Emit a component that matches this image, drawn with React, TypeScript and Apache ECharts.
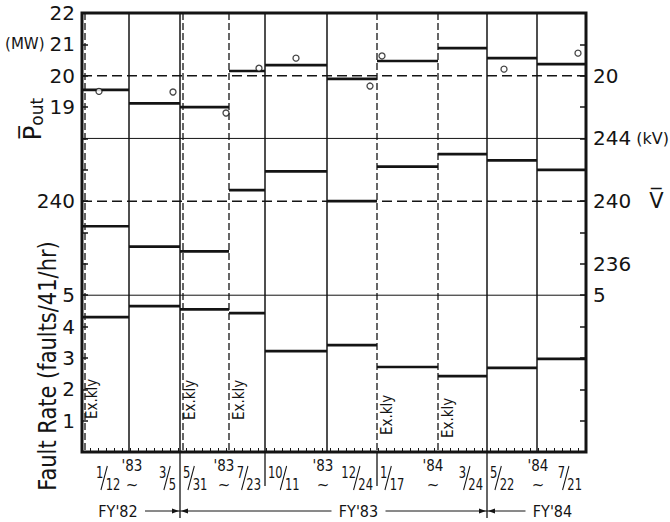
import React, { useEffect, useRef } from 'react';
import * as echarts from 'echarts';

// ---------------- data ----------------
// operating segments along the (compressed) time axis
const segmentEdges = [0, 47, 98, 147, 183, 245, 295, 356, 405, 455, 504];
const pOutMW = [19.55, 19.12, 19.0, 20.15, 20.34, 19.9, 20.47, 20.88, 20.56, 20.37];
const voltageKV = [238.4, 237.1, 236.8, 240.7, 241.9, 240.0, 242.2, 243.0, 242.6, 242.0];
const faultRate = [4.3, 4.65, 4.55, 4.43, 3.22, 3.41, 2.71, 2.42, 2.68, 2.97];
const pOutPointX = [17, 91, 144, 177, 214, 288, 300, 422, 496];
const pOutPointMW = [19.5, 19.48, 18.81, 20.24, 20.56, 19.67, 20.63, 20.21, 20.72];

const periodBoundaryEdges = [47, 98, 183, 245, 405, 455];
const klystronExchangeEdges = [0, 98, 147, 295, 356];
const runBoundaryEdges = [98, 183, 295, 405];
const runStartEdges = [0, 98, 183, 295, 405];
const runSplitEdges = [47, 147, 245, 356, 455];
const runEndEdges = [98, 183, 295, 405, 504];
const runStartDates = [['1', '12'], ['5', '31'], ['10', '11'], ['1', '17'], ['5', '22']];
const runEndDates = [['3', '5'], ['7', '23'], ['12', '24'], ['3', '24'], ['7', '21']];
const runYears = ["'83", "'83", "'83", "'84", "'84"];
const fiscalYears = ["FY'82", "FY'83", "FY'84"];
const fiscalYearEdges = [0, 98, 405, 504];

const pOutLeftTicks = [19, 20, 21, 22];
const pOutRightTicks = [20];
const voltageLeftTicks = [240];
const voltageRightTicks = [236, 240, 244];
const faultLeftTicks = [1, 2, 3, 4, 5];
const faultRightTicks = [5];
const pOutDashed = [20];
const voltageDashed = [240];
const voltageSolid = [244];
const faultSolid = [5];

// ---------------- layout / style ----------------
const FONT = "'DejaVu Sans', sans-serif";
const NARROW = "'DejaVu Sans Condensed', 'DejaVu Sans', sans-serif";
const INK = '#141414';
const X_MIN = 0, X_MAX = 504;
const F_MIN = 0, F_MAX = 14;
const P_MIN = 8, P_MAX = 22;
const V_MIN = 224, V_MAX = 252;
const exKlyLift = [33, 32, 32, 17, 14];
const fyTextShift = [-13, 25, 16];
const yearShift = [3, -5, -4, -5, 1];

function stepSeries(name: string, values: number[], yAxisIndex: number) {
  return {
    type: 'custom', name, yAxisIndex, z: 5,
    encode: { x: [0, 1], y: 2 },
    data: values.map((v, i) => [segmentEdges[i], segmentEdges[i + 1], v]),
    renderItem: (_p: any, api: any) => {
      const a = api.coord([api.value(0), api.value(2)]);
      const b = api.coord([api.value(1), api.value(2)]);
      return { type: 'line', shape: { x1: a[0], y1: a[1], x2: b[0], y2: b[1] }, style: { stroke: INK, lineWidth: 2.7 } };
    },
  };
}

function refLineSeries(name: string, values: number[], yAxisIndex: number, dashed: boolean) {
  return {
    type: 'custom', name, yAxisIndex, z: 3,
    encode: { x: 0, y: 1 },
    data: values.map((v) => [X_MIN, v]),
    renderItem: (_p: any, api: any) => {
      const a = api.coord([X_MIN, api.value(1)]);
      const b = api.coord([X_MAX, api.value(1)]);
      return {
        type: 'line', shape: { x1: a[0], y1: a[1], x2: b[0], y2: b[1] },
        style: { stroke: INK, lineWidth: dashed ? 1.5 : 1, lineDash: dashed ? [10, 5] : null },
      };
    },
  };
}

// fraction like  1/12  drawn as raised numerator, slash and lowered denominator
const FRAC_FS = 16;
const FRAC_DW = FRAC_FS * 0.572;
const FRAC_SCALE = 0.8;
function fraction(x: number, y: number, parts: string[], align: string) {
  const nw = parts[0].length * FRAC_DW;
  const width = (nw + 3 + parts[1].length * FRAC_DW) * FRAC_SCALE;
  const gx = align === 'right' ? x - width : x;
  const ts = { fontSize: FRAC_FS, fontFamily: NARROW, fill: INK, verticalAlign: 'middle', align: 'left' };
  return {
    type: 'group', x: gx, y, scaleX: FRAC_SCALE,
    children: [
      { type: 'text', x: 0, y: -6, style: { ...ts, text: parts[0] } },
      { type: 'line', shape: { x1: nw - 3, y1: 12, x2: nw + 5, y2: -12 }, style: { stroke: INK, lineWidth: 1.3 } },
      { type: 'text', x: nw + 3, y: 6, style: { ...ts, text: parts[1] } },
    ],
  };
}

const axisLabelBase = { fontSize: 20, fontFamily: FONT, color: INK };
const hidden = { axisLine: { show: false }, splitLine: { show: false } };

const option: any = {
  animation: false,
  backgroundColor: '#fff',
  grid: { left: 82, right: 84, top: 13, bottom: 70, show: true, borderColor: INK, borderWidth: 3, outerBoundsMode: 'none' },
  xAxis: {
    type: 'value', min: X_MIN, max: X_MAX, interval: 8,
    axisLine: { show: false }, splitLine: { show: false }, axisLabel: { show: false },
    axisTick: { show: true, inside: true, length: 4, lineStyle: { color: INK, width: 1 } },
  },
  yAxis: [
    {
      type: 'value', min: F_MIN, max: F_MAX, interval: 1, position: 'left', ...hidden,
      axisTick: { show: true, inside: true, length: 6, lineStyle: { color: INK, width: 1.5 } },
      axisLabel: { ...axisLabelBase, margin: 7, formatter: (v: number) => (faultLeftTicks.includes(v) ? String(v) : '') },
    },
    {
      type: 'value', min: P_MIN, max: P_MAX, interval: 1, position: 'left', ...hidden, axisTick: { show: false },
      axisLabel: {
        ...axisLabelBase, margin: 7, showMaxLabel: true,
        formatter: (v: number) => (!pOutLeftTicks.includes(v) ? '' : v === 21 ? '{u|(MW)}21' : String(v)),
        rich: { u: { fontSize: 15, fontFamily: FONT, color: INK, padding: [0, 5, 0, 0] } },
      },
    },
    {
      type: 'value', min: V_MIN, max: V_MAX, interval: 2, position: 'left', ...hidden, axisTick: { show: false },
      axisLabel: { ...axisLabelBase, margin: 7, formatter: (v: number) => (voltageLeftTicks.includes(v) ? String(v) : '') },
    },
    {
      type: 'value', min: F_MIN, max: F_MAX, interval: 1, position: 'right', ...hidden,
      axisTick: { show: true, inside: true, length: 6, lineStyle: { color: INK, width: 1.5 } },
      axisLabel: { ...axisLabelBase, margin: 7, formatter: (v: number) => (faultRightTicks.includes(v) ? String(v) : '') },
    },
    {
      type: 'value', min: P_MIN, max: P_MAX, interval: 1, position: 'right', ...hidden, axisTick: { show: false },
      axisLabel: { ...axisLabelBase, margin: 7, formatter: (v: number) => (pOutRightTicks.includes(v) ? String(v) : '') },
    },
    {
      type: 'value', min: V_MIN, max: V_MAX, interval: 2, position: 'right', ...hidden, axisTick: { show: false },
      axisLabel: {
        ...axisLabelBase, margin: 7,
        formatter: (v: number) =>
          !voltageRightTicks.includes(v) ? '' : v === 244 ? '244{u|(kV)}' : v === 240 ? '240{w|V\u0305}' : String(v),
        rich: {
          u: { fontSize: 16, fontFamily: FONT, color: INK, padding: [0, 0, 0, 5] },
          w: { fontSize: 21, fontFamily: FONT, color: INK, padding: [0, 0, 0, 18] },
        },
      },
    },
  ],
  series: [
    refLineSeries('P ref dashed', pOutDashed, 1, true),
    refLineSeries('V ref dashed', voltageDashed, 2, true),
    refLineSeries('V ref solid', voltageSolid, 2, false),
    refLineSeries('F ref solid', faultSolid, 0, false),
    {
      type: 'custom', name: 'dividers', yAxisIndex: 0, z: 4,
      encode: { x: 0, y: 1 },
      data: [...periodBoundaryEdges.map((x) => [x, 0, 0]), ...klystronExchangeEdges.map((x) => [x, 0, 1])],
      renderItem: (_p: any, api: any) => {
        const x = api.value(0);
        const dashed = api.value(2) === 1;
        const top = api.coord([x, F_MAX]);
        const bot = api.coord([x, F_MIN]);
        const shift = dashed && (x === X_MIN || periodBoundaryEdges.includes(x)) ? 3 : 0;
        return {
          type: 'line',
          shape: { x1: top[0] + shift, y1: top[1], x2: bot[0] + shift, y2: bot[1] },
          style: { stroke: INK, lineWidth: dashed ? 1.3 : 1.5, lineDash: dashed ? [7, 3] : null },
        };
      },
    },
    {
      type: 'custom', name: 'run separators', yAxisIndex: 0, z: 4,
      encode: { x: 0, y: 1 },
      data: runBoundaryEdges.map((x) => [x, 0]),
      renderItem: (_p: any, api: any) => {
        const x = api.value(0);
        const bot = api.coord([x, F_MIN]);
        const len = fiscalYearEdges.includes(x) ? 66 : 34;
        return { type: 'line', shape: { x1: bot[0], y1: bot[1], x2: bot[0], y2: bot[1] + len }, style: { stroke: INK, lineWidth: 1.3 } };
      },
    },
    {
      type: 'custom', name: 'run dates', yAxisIndex: 0, z: 4,
      encode: { x: 0, y: 1 },
      data: runStartEdges.map((x) => [x, 0]),
      renderItem: (p: any, api: any) => {
        const i = p.dataIndex;
        const s = api.coord([runStartEdges[i], F_MIN]);
        const m = api.coord([runSplitEdges[i], F_MIN]);
        const e = api.coord([runEndEdges[i], F_MIN]);
        const y0 = s[1];
        const mx = m[0] + yearShift[i];
        return {
          type: 'group',
          children: [
            fraction(s[0] + (i === 0 ? 14 : 3), y0 + 26, runStartDates[i], 'left'),
            fraction(e[0] - 4, y0 + 26, runEndDates[i], 'right'),
            { type: 'text', x: mx, y: y0 + 14, style: { text: runYears[i], fontSize: 15, fontFamily: NARROW, fill: INK, align: 'center', verticalAlign: 'middle' } },
            { type: 'text', x: mx, y: y0 + 33, style: { text: '~', fontSize: 15, fontFamily: FONT, fill: INK, align: 'center', verticalAlign: 'middle' } },
          ],
        };
      },
    },
    {
      type: 'custom', name: 'fiscal years', yAxisIndex: 0, z: 4,
      encode: { x: 0, y: 1 },
      data: fiscalYears.map((_f, i) => [fiscalYearEdges[i], 0]),
      renderItem: (p: any, api: any) => {
        const i = p.dataIndex;
        const a = api.coord([fiscalYearEdges[i], F_MIN]);
        const b = api.coord([fiscalYearEdges[i + 1], F_MIN]);
        const y = a[1] + 59;
        const cx = (a[0] + b[0]) / 2 + fyTextShift[i];
        const half = 23;
        const children: any[] = [
          { type: 'text', x: cx, y, style: { text: fiscalYears[i], fontSize: 16, fontFamily: NARROW, fill: INK, align: 'center', verticalAlign: 'middle' } },
        ];
        const ln = { stroke: INK, lineWidth: 1 };
        if (i > 0) {
          children.push({ type: 'line', shape: { x1: a[0], y1: y, x2: cx - half - 4, y2: y }, style: ln });
          children.push({ type: 'polygon', shape: { points: [[a[0] + 1, y], [a[0] + 8, y - 2.5], [a[0] + 8, y + 2.5]] }, style: { fill: INK } });
        }
        if (i < fiscalYears.length - 1) {
          children.push({ type: 'line', shape: { x1: cx + half + 4, y1: y, x2: b[0], y2: y }, style: ln });
          children.push({ type: 'polygon', shape: { points: [[b[0] - 1, y], [b[0] - 8, y - 2.5], [b[0] - 8, y + 2.5]] }, style: { fill: INK } });
        }
        return { type: 'group', children };
      },
    },
    {
      type: 'custom', name: 'Ex.kly', yAxisIndex: 0, z: 4,
      encode: { x: 0, y: 1 },
      data: klystronExchangeEdges.map((x) => [x, 0]),
      renderItem: (p: any, api: any) => {
        const i = p.dataIndex;
        const q = api.coord([api.value(0), F_MIN]);
        return {
          type: 'text', x: q[0] + 10, y: q[1] - exKlyLift[i], rotation: Math.PI / 2,
          style: { text: 'Ex.kly', fontSize: 15, fontFamily: NARROW, fill: INK, align: 'left', verticalAlign: 'middle' },
        };
      },
    },
    stepSeries('Fault rate', faultRate, 0),
    stepSeries('P out', pOutMW, 1),
    stepSeries('V', voltageKV, 2),
    {
      type: 'scatter', name: 'P out points', yAxisIndex: 1, z: 6,
      data: pOutPointX.map((x, i) => [x, pOutPointMW[i]]),
      symbol: 'circle', symbolSize: 6,
      itemStyle: { color: '#fff', borderColor: INK, borderWidth: 1.3 },
    },
  ],
  graphic: [
    {
      type: 'text', x: 33, y: 119, rotation: Math.PI / 2,
      style: {
        text: '{p|P\u0305}{s|out}', align: 'center', verticalAlign: 'middle',
        rich: {
          p: { fontSize: 24, fontFamily: FONT, fill: INK, verticalAlign: 'bottom' },
          s: { fontSize: 17, fontFamily: FONT, fill: INK, verticalAlign: 'bottom' },
        },
      },
    },
    {
      type: 'text', x: 47, y: 366, rotation: Math.PI / 2, scaleX: 0.875,
      style: { text: 'Fault Rate (faults/41/hr)', fontSize: 24, fontFamily: FONT, fill: INK, align: 'center', verticalAlign: 'middle' },
    },
  ],
};

export default function App() {
  const ref = useRef<HTMLDivElement>(null);
  useEffect(() => {
    const chart = echarts.init(ref.current!, null, { renderer: 'svg' });
    chart.setOption(option);
    return () => chart.dispose();
  }, []);
  return <div ref={ref} style={{ position: 'absolute', left: 0, top: 0, width: 670, height: 522, background: '#fff' }} />;
}
